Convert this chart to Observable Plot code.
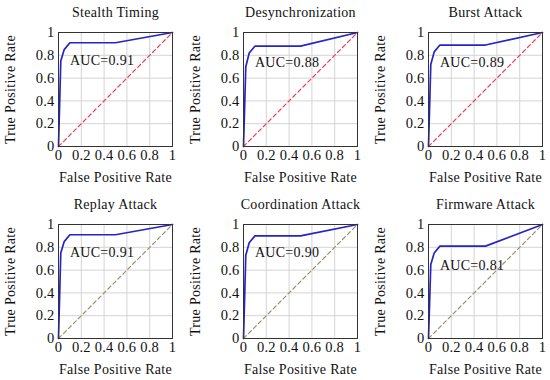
<!DOCTYPE html>
<html>
<head>
<meta charset="utf-8">
<script src="https://cdn.jsdelivr.net/npm/d3@7"></script>
<script src="https://cdn.jsdelivr.net/npm/@observablehq/plot@0.6"></script>
<style>
  html, body { margin: 0; padding: 0; background: #fff; }
  #root { position: relative; width: 550px; height: 380px; overflow: hidden; }
  #root > div { position: absolute; }
  #root g[aria-label="x-axis tick label"], #root g[aria-label="y-axis tick label"] { letter-spacing: 0.2px; }
</style>
</head>
<body>
<div id="root"></div>
<script>
const titles = ["Stealth Timing", "Desynchronization", "Burst Attack", "Replay Attack", "Coordination Attack", "Firmware Attack"];
const fpr = [0, 0.02, 0.05, 0.1, 0.5, 1];
const tprStealth = [0, 0.75, 0.85, 0.91, 0.91, 1];
const tprDesync = [0, 0.70, 0.82, 0.88, 0.88, 1];
const tprBurst = [0, 0.72, 0.83, 0.89, 0.89, 1];
const tprReplay = [0, 0.75, 0.85, 0.91, 0.91, 1];
const tprCoord = [0, 0.73, 0.84, 0.90, 0.90, 1];
const tprFirmware = [0, 0.65, 0.75, 0.81, 0.81, 1];
const tprSeries = [tprStealth, tprDesync, tprBurst, tprReplay, tprCoord, tprFirmware];
const aucLabels = ["AUC=0.91", "AUC=0.88", "AUC=0.89", "AUC=0.91", "AUC=0.90", "AUC=0.81"];
const aucLabelX = [0.1, 0.1, 0.1, 0.1, 0.1, 0.1];
const aucLabelY = [0.75, 0.74, 0.74, 0.75, 0.75, 0.64];
const diagX = [0, 1];
const diagY = [0, 1];
const ticks = [0, 0.2, 0.4, 0.6, 0.8, 1];
const diagColors = ["#e8405a", "#e8405a", "#e8405a", "#a09070", "#a09070", "#a09070"];

const FONT = "'Liberation Serif', 'DejaVu Serif', serif";
const root = document.getElementById("root");
const colLeft = [0, 185, 370];
const rowTop = [0, 192];

titles.forEach((title, i) => {
  const col = i % 3, row = Math.floor(i / 3);
  const curve = fpr.map((x, k) => ({x, y: tprSeries[i][k]}));
  const diag = diagX.map((x, k) => ({x, y: diagY[k]}));
  const chart = Plot.plot({
    width: 180,
    height: 188,
    marginLeft: 58,
    marginRight: 8,
    marginTop: 32,
    marginBottom: 42,
    style: {fontFamily: FONT, fontSize: "14px", color: "#111", background: "transparent", letterSpacing: "0.3px", overflow: "visible"},
    x: {domain: [0, 1], ticks, tickSize: 0, tickPadding: 4, label: null, tickFormat: d => String(d)},
    y: {domain: [0, 1], ticks, tickSize: 0, tickPadding: 4, label: null, tickFormat: d => String(d)},
    marks: [
      Plot.gridX(ticks, {stroke: "#d4d4d4", strokeOpacity: 1}),
      Plot.gridY(ticks, {stroke: "#d4d4d4", strokeOpacity: 1}),
      Plot.axisX({ticks, tickSize: 0, tickPadding: 3, tickFormat: d => String(d), fontSize: 14.5, label: null, fill: "#111"}),
      Plot.axisY({ticks, tickSize: 0, tickPadding: 4, tickFormat: d => String(d), fontSize: 14.5, label: null, fill: "#111"}),
      Plot.line(diag, {x: "x", y: "y", stroke: diagColors[i], strokeWidth: 1.2, strokeDasharray: "4,3"}),
      Plot.line(curve, {x: "x", y: "y", stroke: "#2424c8", strokeWidth: 1.7}),
      Plot.text([aucLabels[i]], {x: aucLabelX[i], y: aucLabelY[i], text: d => d, textAnchor: "start", fontSize: 14, fill: "#111"}),
      Plot.frame({stroke: "#333", strokeWidth: 1}),
      Plot.text([title], {frameAnchor: "top", lineAnchor: "middle", dy: -20, text: d => d, fontSize: 14, fill: "#111"}),
      Plot.text(["False Positive Rate"], {frameAnchor: "bottom", lineAnchor: "middle", dy: 31, text: d => d, fontSize: 14, fill: "#111"}),
      Plot.text(["True Positive Rate"], {frameAnchor: "left", textAnchor: "middle", lineAnchor: "middle", dx: -48, rotate: -90, text: d => d, fontSize: 14, fill: "#111"})
    ]
  });
  const wrap = document.createElement("div");
  wrap.style.left = colLeft[col] + "px";
  wrap.style.top = rowTop[row] + "px";
  wrap.appendChild(chart);
  root.appendChild(wrap);
});
</script>
</body>
</html>
